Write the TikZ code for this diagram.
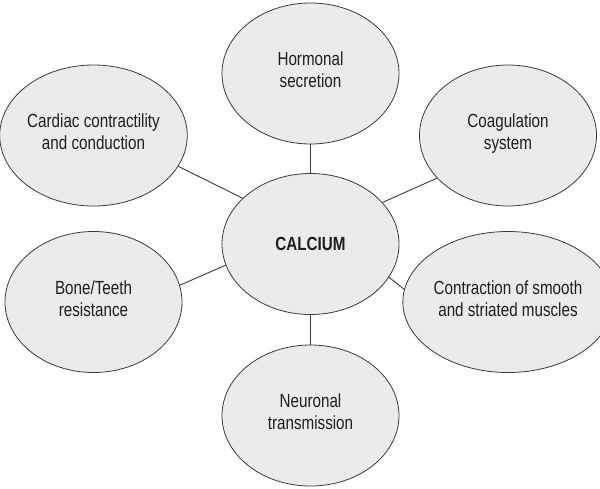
\documentclass[tikz,border=0pt]{standalone}
\usepackage{fontspec}
\setmainfont{Liberation Sans}[FakeStretch=0.8]
\usetikzlibrary{shapes.geometric}
\definecolor{bubblefill}{HTML}{EBEBEB}
\definecolor{edgecol}{HTML}{3A3A3A}
\definecolor{txtcol}{HTML}{1E1E1E}
\begin{document}
\begin{tikzpicture}[x=1pt,y=-1pt,
  bubble/.style={ellipse, draw=edgecol, line width=0.8pt, fill=bubblefill,
    minimum width=177pt, minimum height=141pt, inner sep=0pt,
    align=center, text=txtcol, font=\fontsize{19}{22}\selectfont},
  twoline/.style={bubble, text depth=7pt},
  link/.style={draw=edgecol, line width=0.9pt}]
\useasboundingbox (0,0) rectangle (600,488);
\node[bubble] (calc) at (310.5,244) {\textbf{CALCIUM}};
\node[twoline] (horm) at (310.5,73.5) {Hormonal\\secretion};
\node[twoline] (card) at (93.5,135.5) {Cardiac contractility\\and conduction};
\node[twoline] (coag) at (508,135.5) {Coagulation\\system};
\node[twoline] (bone) at (93.5,302) {Bone/Teeth\\resistance};
\node[twoline] (cont) at (508,302) {Contraction of smooth\\and striated muscles};
\node[twoline] (neur) at (310.5,415.5) {Neuronal\\transmission};
\draw[link] (calc.90) -- (horm.270);
\draw[link] (calc.270) -- (neur.90);
\draw[link] (calc.146.7) -- (card.340.7);
\draw[link] (calc.30.4) -- (coag.211.9);
\draw[link] (calc.194.6) -- (bone.11.9);
\draw[link] (calc.337.8) -- (cont.173.4);
\end{tikzpicture}
\end{document}
